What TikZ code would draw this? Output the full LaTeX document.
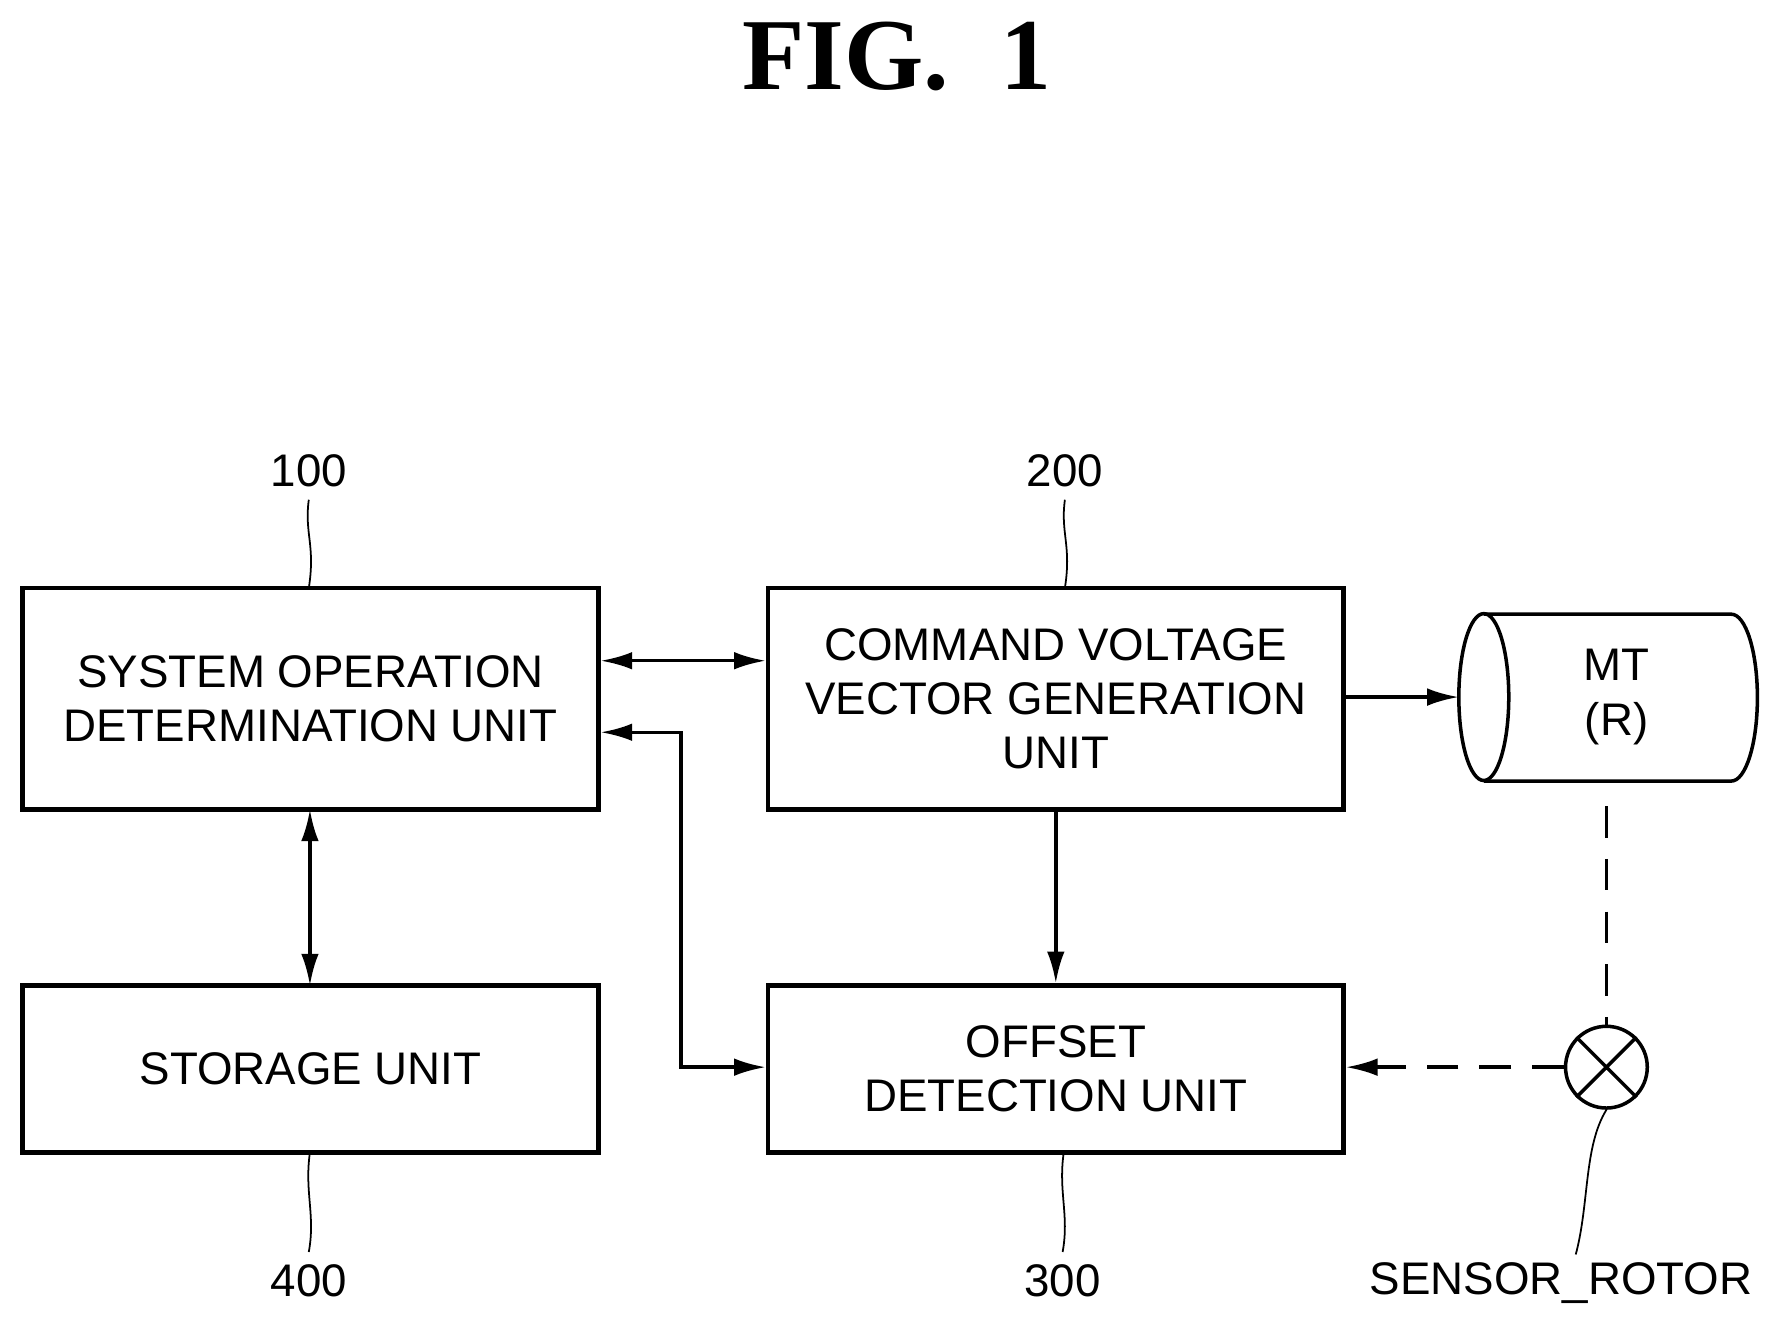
\documentclass[tikz,border=0pt]{standalone}
\usepackage{fontspec}
\setmainfont{Liberation Sans}
\newfontfamily\titlefont{Liberation Serif}
\usetikzlibrary{arrows.meta}
\begin{document}
\begin{tikzpicture}[x=0.01135cm,y=-0.01135cm,
  box/.style={draw,line width=1.3pt,minimum width=507*0.01135cm,inner sep=0pt,align=center,font=\fontsize{13}{15.5}\selectfont},
  lbl/.style={font=\fontsize{13}{15}\selectfont},
  arr/.style={line width=1pt,-{Latex[length=9pt,width=5pt]}},
  darr/.style={line width=1pt,{Latex[length=9pt,width=5pt]}-{Latex[length=9pt,width=5pt]}},
  lead/.style={line width=0.5pt}]
\useasboundingbox (0,0) rectangle (1560,1160);
\node[font=\titlefont\bfseries\fontsize{29}{29}\selectfont] (title) at (790,50) {FIG.\ \ 1};
\node[box,minimum height=195*0.01135cm] (b100) at (273.5,615.5) {SYSTEM OPERATION\\DETERMINATION UNIT};
\node[box,minimum height=195*0.01135cm] (b200) at (930,615.5) {COMMAND VOLTAGE\\VECTOR GENERATION\\UNIT};
\node[box,minimum height=147*0.01135cm] (b400) at (273.5,941.5) {STORAGE UNIT};
\node[box,minimum height=147*0.01135cm] (b300) at (930,941.5) {OFFSET\\DETECTION UNIT};
% motor cylinder
\coordinate (mtl) at (1285,614);
\draw[line width=1pt] (1307,541) -- (1525,541) arc[start angle=-90,end angle=90,x radius=23,y radius=73.5] -- (1307,688);
\draw[line width=1pt] (1307,614) ellipse[x radius=22,y radius=73.5];
\node[align=center,font=\fontsize{13}{15.5}\selectfont] (mt) at (1424,614) {MT\\(R)};
\coordinate (mtb) at (1415,710);
% sensor
\node[draw,circle,line width=1pt,minimum size=72*0.01135cm,inner sep=0pt] (sen) at (1415,940) {};
\draw[line width=1pt] (sen.north west) -- (sen.south east) (sen.north east) -- (sen.south west);
% labels
\node[lbl] (l100) at (272,415) {100};
\node[lbl] (l200) at (938,415) {200};
\node[lbl] (l400) at (272,1128) {400};
\node[lbl] (l300) at (936,1128) {300};
\node[lbl] (lsen) at (1375,1130) {SENSOR\_ROTOR};
\draw[lead] (l100.south) .. controls (268,470) and (278,480) .. (272,518);
\draw[lead] (l200.south) .. controls (934,470) and (944,480) .. (938,518);
\draw[lead] (273,1015) .. controls (268,1050) and (278,1070) .. (l400.north);
\draw[lead] (937,1015) .. controls (932,1050) and (942,1070) .. (l300.north);
\draw[lead] (sen.south) .. controls (1395,1010) and (1400,1060) .. (1388,1105);
% connectors
\draw[darr] (b100.east|-0,582) -- (b200.west|-0,582);
\draw[arr] (b200.east|-0,614) -- (mtl);
\draw[darr] (273,713) -- (273,868);
\draw[arr] (b200.south) -- (b300.north);
\draw[darr] (b100.east|-0,645) -- (600,645) -- (600,940) -- (b300.west|-0,940);
\draw[line width=1pt,dash pattern=on 9pt off 6pt] (mtb) -- (sen.north);
\draw[arr,dash pattern=on 9pt off 6pt] (sen.west) -- (b300.east|-0,940);
\end{tikzpicture}
\end{document}
